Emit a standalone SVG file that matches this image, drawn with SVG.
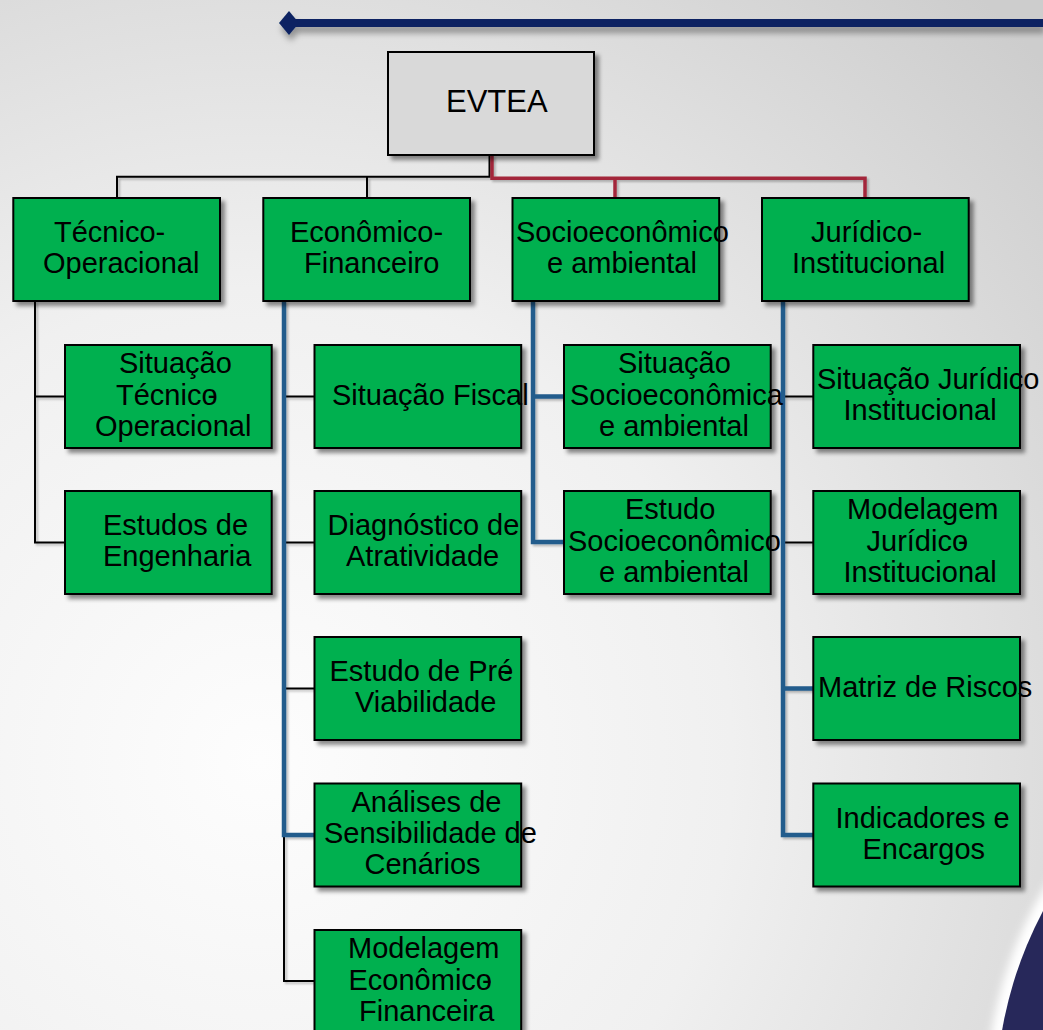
<svg xmlns="http://www.w3.org/2000/svg" width="1043" height="1030" viewBox="0 0 1043 1030">
<defs>
<radialGradient id="bg" cx="260" cy="760" r="1050" gradientUnits="userSpaceOnUse">
<stop offset="0" stop-color="#fdfdfd"/>
<stop offset="0.45" stop-color="#f0f0f0"/>
<stop offset="1" stop-color="#cdcdcd"/>
</radialGradient>
<filter id="sh" x="-10%" y="-10%" width="130%" height="130%">
<feDropShadow dx="4" dy="4" stdDeviation="2.2" flood-color="#000" flood-opacity="0.45"/>
</filter>
<filter id="lsh" x="-5%" y="-50%" width="110%" height="300%">
<feDropShadow dx="2" dy="6" stdDeviation="3" flood-color="#000" flood-opacity="0.35"/>
</filter>
<filter id="csh" x="-10%" y="-10%" width="120%" height="120%">
<feDropShadow dx="2" dy="2" stdDeviation="1.2" flood-color="#000" flood-opacity="0.25"/>
</filter>
<filter id="blur"><feGaussianBlur stdDeviation="4"/></filter>
<style>
.box{fill:#00b050;stroke:#000;stroke-width:2}
.root{fill:#d9d9d9;stroke:#000;stroke-width:2}
text{font-family:"Liberation Sans",Arial,sans-serif;font-size:29px;fill:#000}
.blk{fill:none;stroke:#000;stroke-width:2}
.red{fill:none;stroke:#a3283a;stroke-width:3.5}
.blu{fill:none;stroke:#225c8c;stroke-width:4.5}
</style>
</defs>
<rect x="0" y="0" width="1043" height="1030" fill="url(#bg)"/>
<circle cx="1400" cy="1100" r="414" fill="#ffffff" filter="url(#blur)"/>
<circle cx="1400" cy="1100" r="404" fill="#27285a"/>
<g id="topbar" filter="url(#lsh)">
<rect x="290" y="19" width="753" height="8" fill="#0b2462"/>
<polygon points="289,11 299,23 289,35 279,23" fill="#0b2462"/>
</g>
<g id="connectors" filter="url(#csh)">
<path class="blk" d="M489.5 155 V176.7 H117 V198"/>
<path class="blk" d="M367 176.7 V198"/>
<path class="red" d="M492 155 V178.3 H865 V198"/>
<path class="red" d="M615 178.3 V198"/>
<path class="blk" d="M35 301 V542.5 H65 M35 396.5 H65"/>
<path class="blk" d="M284 301 V981 H314.5 M284 396.5 H314.5 M284 542.5 H314.5 M284 688.5 H314.5"/>
<path class="blu" d="M284 301 V835 H314.5"/>
<path class="blu" d="M533 301 V542 H564 M533 396.5 H564"/>
<path class="blk" d="M783 396.5 H813 M783 542.5 H813"/>
<path class="blu" d="M783 301 V835 H813 M783 688.5 H813"/>
</g>
<g id="n-evtea"><rect class="root" x="388" y="52" width="206" height="103" filter="url(#sh)"/><text x="446" y="111.5" style="font-size:31px">EVTEA</text></g>
<g id="n-tecnico"><rect class="box" x="13.3" y="198" width="206.7" height="103" filter="url(#sh)"/><text x="54" y="242">Técnico-</text><text x="43" y="273">Operacional</text></g>
<g id="n-economico"><rect class="box" x="263.3" y="198" width="206.7" height="103" filter="url(#sh)"/><text x="290" y="242">Econômico-</text><text x="304" y="273">Financeiro</text></g>
<g id="n-socio"><rect class="box" x="512.5" y="198" width="206.7" height="103" filter="url(#sh)"/><text x="516" y="242">Socioeconômico</text><text x="547" y="273">e ambiental</text></g>
<g id="n-juridico"><rect class="box" x="762" y="198" width="206.7" height="103" filter="url(#sh)"/><text x="811" y="242">Jurídico-</text><text x="792" y="273">Institucional</text></g>
<g id="n-sit-tec"><rect class="box" x="65" y="345" width="206.7" height="103" filter="url(#sh)"/><text x="119" y="373.3">Situação</text><text x="116" y="404.5">Técnico<tspan dx="-10">-</tspan></text><text x="95" y="435.7">Operacional</text></g>
<g id="n-est-eng"><rect class="box" x="65" y="491" width="206.7" height="103" filter="url(#sh)"/><text x="103" y="535.3">Estudos de</text><text x="103" y="566.3">Engenharia</text></g>
<g id="n-sit-fiscal"><rect class="box" x="314.5" y="345" width="206.7" height="103" filter="url(#sh)"/><text x="332" y="404.5">Situação Fiscal</text></g>
<g id="n-diag"><rect class="box" x="314.5" y="491" width="206.7" height="103" filter="url(#sh)"/><text x="327.5" y="535.3">Diagnóstico de</text><text x="346" y="566.3">Atratividade</text></g>
<g id="n-pre"><rect class="box" x="314.5" y="637" width="206.7" height="103" filter="url(#sh)"/><text x="329.5" y="681.3">Estudo de Pré<tspan dx="-10">-</tspan></text><text x="355" y="712.3">Viabilidade</text></g>
<g id="n-analises"><rect class="box" x="314.5" y="783.5" width="206.7" height="103" filter="url(#sh)"/><text x="351.5" y="811.7">Análises de</text><text x="324" y="842.9">Sensibilidade de</text><text x="364.5" y="874">Cenários</text></g>
<g id="n-mod-eco"><rect class="box" x="314.5" y="930" width="206.7" height="103" filter="url(#sh)"/><text x="348" y="958.3">Modelagem</text><text x="348.5" y="989.5">Econômico<tspan dx="-10">-</tspan></text><text x="359" y="1020.5">Financeira</text></g>
<g id="n-sit-socio"><rect class="box" x="564" y="345" width="206.7" height="103" filter="url(#sh)"/><text x="618" y="373.3">Situação</text><text x="570" y="404.5">Socioeconômica</text><text x="599" y="435.7">e ambiental</text></g>
<g id="n-est-socio"><rect class="box" x="564" y="491" width="206.7" height="103" filter="url(#sh)"/><text x="625" y="519.3">Estudo</text><text x="568" y="550.5">Socioeconômico</text><text x="599" y="581.7">e ambiental</text></g>
<g id="n-sit-jur"><rect class="box" x="813.3" y="345" width="206.7" height="103" filter="url(#sh)"/><text x="817" y="388.5">Situação Jurídico</text><text x="843.5" y="419.5">Institucional</text></g>
<g id="n-mod-jur"><rect class="box" x="813.3" y="491" width="206.7" height="103" filter="url(#sh)"/><text x="847" y="519.3">Modelagem</text><text x="866.5" y="550.5">Jurídico<tspan dx="-10">-</tspan></text><text x="843.5" y="581.7">Institucional</text></g>
<g id="n-matriz"><rect class="box" x="813.3" y="637" width="206.7" height="103" filter="url(#sh)"/><text x="818" y="696.5">Matriz de Riscos</text></g>
<g id="n-indic"><rect class="box" x="813.3" y="783.5" width="206.7" height="103" filter="url(#sh)"/><text x="835.5" y="827.8">Indicadores e</text><text x="862.5" y="858.8">Encargos</text></g>
</svg>
